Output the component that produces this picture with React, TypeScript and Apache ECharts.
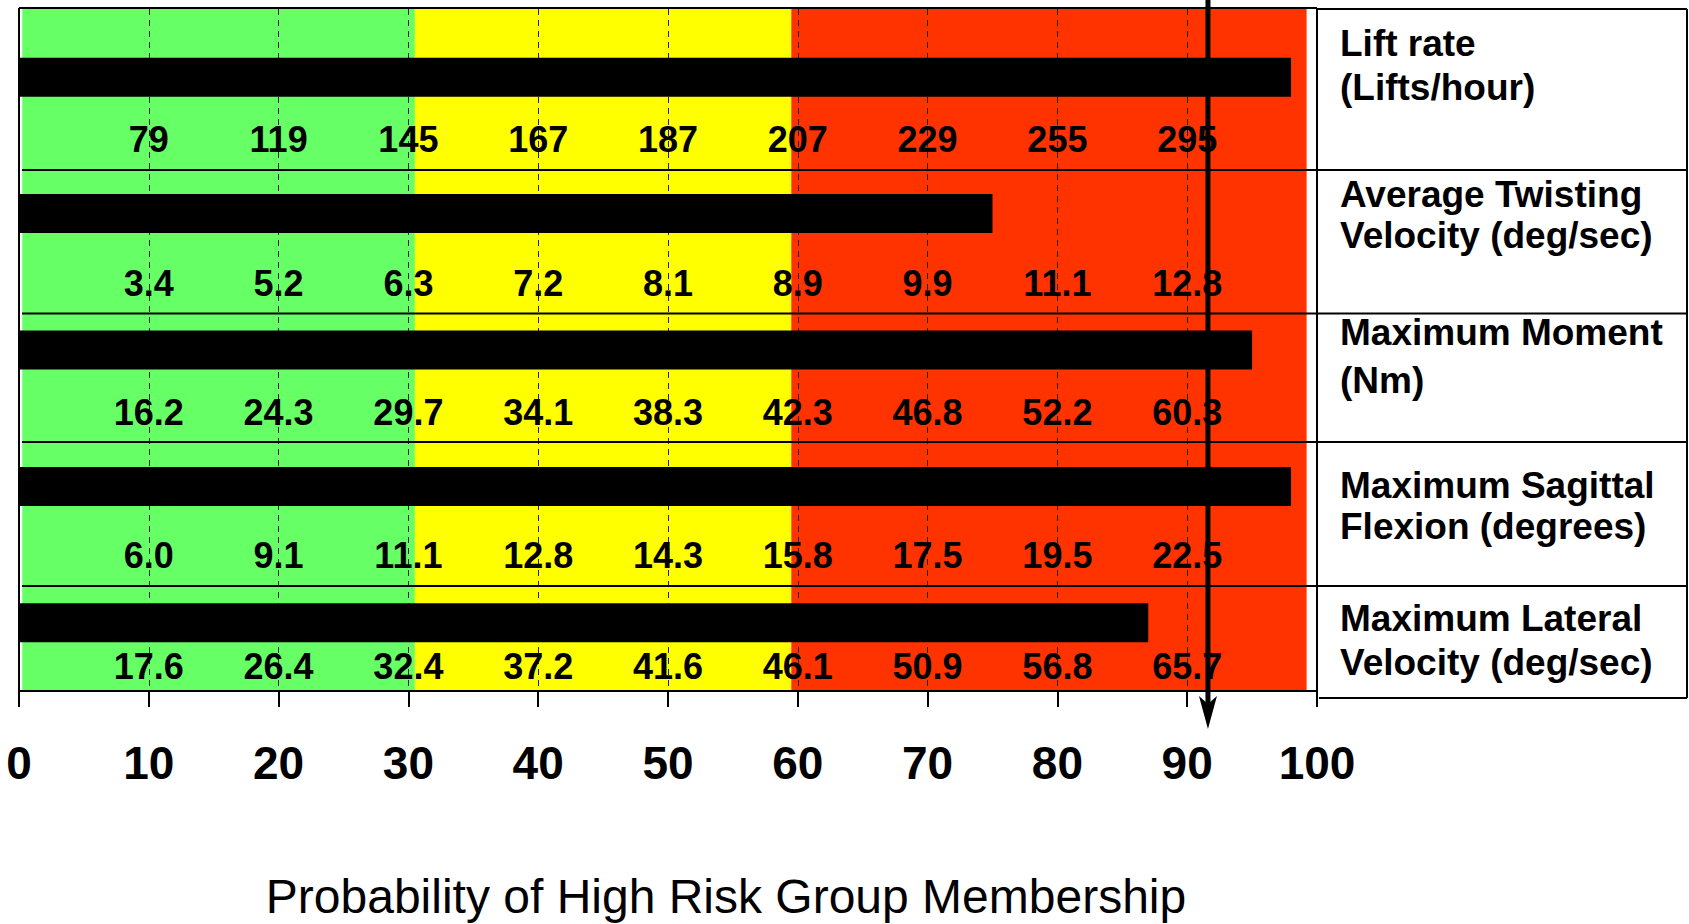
import React, { useEffect, useRef } from 'react';
import * as echarts from 'echarts';

// ---------- data ----------
const rowKeys = ['lift', 'twist', 'moment', 'sagittal', 'lateral'];
const rowLabelLines = [
  ['Lift rate', '(Lifts/hour)'],
  ['Average Twisting', 'Velocity (deg/sec)'],
  ['Maximum Moment', '(Nm)'],
  ['Maximum Sagittal', 'Flexion (degrees)'],
  ['Maximum Lateral', 'Velocity (deg/sec)'],
];
const probabilities = [98, 75, 95, 98, 87];
const scalePositions = [10, 20, 30, 40, 50, 60, 70, 80, 90];
const liftRateTicks = ['79', '119', '145', '167', '187', '207', '229', '255', '295'];
const twistVelocityTicks = ['3.4', '5.2', '6.3', '7.2', '8.1', '8.9', '9.9', '11.1', '12.8'];
const momentTicks = ['16.2', '24.3', '29.7', '34.1', '38.3', '42.3', '46.8', '52.2', '60.3'];
const sagittalTicks = ['6.0', '9.1', '11.1', '12.8', '14.3', '15.8', '17.5', '19.5', '22.5'];
const lateralVelocityTicks = ['17.6', '26.4', '32.4', '37.2', '41.6', '46.1', '50.9', '56.8', '65.7'];
const rowTicks = [liftRateTicks, twistVelocityTicks, momentTicks, sagittalTicks, lateralVelocityTicks];
const zoneEdges = [0.25, 30.5, 59.5, 99.2];
const zoneColors = ['#66FF66', '#FFFF00', '#FF3300'];
const arrowValue = 91.6;
const axisTitle = 'Probability of High Risk Group Membership';

// ---------- layout / style ----------
const W = 1689;
const H = 924;
const FONT = '"Liberation Sans", Arial, Helvetica, sans-serif';
const GRID_LEFT = 19;
const GRID_RIGHT_X = 1317;
const GRID_TOP = 9;
const GRID_HEIGHT = 682;
const BOX_RIGHT = 1687;
const separatorYs = [170, 313.5, 442, 586];
const tickLabelOffsets = [62, 70, 62, 69, 44];
const labelLineYs = [
  [43, 87],
  [194, 235],
  [332.5, 380.5],
  [485, 526],
  [618.5, 662],
];

export default function App() {
  const ref = useRef<HTMLDivElement>(null);

  useEffect(() => {
    document.body.style.margin = '0';
    if (!ref.current) return;
    const chart = echarts.init(ref.current, null, { renderer: 'svg' });

    const labelData: any[] = [];
    rowTicks.forEach((ticks, r) => {
      ticks.forEach((t, i) => {
        labelData.push({
          name: t,
          value: [scalePositions[i], r],
          label: { offset: [0, tickLabelOffsets[r]] },
        });
      });
    });

    const zoneAreas = zoneColors.map((c, i) => [
      { xAxis: zoneEdges[i], itemStyle: { color: c, opacity: 1 } },
      { xAxis: zoneEdges[i + 1] },
    ]);

    const option: any = {
      animation: false,
      grid: {
        left: GRID_LEFT,
        top: GRID_TOP,
        width: GRID_RIGHT_X - GRID_LEFT,
        height: GRID_HEIGHT,
        containLabel: false,
      },
      xAxis: {
        type: 'value',
        min: 0,
        max: 100,
        interval: 10,
        z: 3,
        axisLine: { show: true, lineStyle: { color: '#000', width: 2 } },
        axisTick: { show: true, length: 16, lineStyle: { color: '#000', width: 2 } },
        axisLabel: {
          show: true,
          margin: 49,
          color: '#000',
          fontFamily: FONT,
          fontWeight: 'bold',
          fontSize: 46,
        },
        splitLine: { show: true, lineStyle: { color: '#222', width: 1, type: [6, 5] } },
      },
      yAxis: {
        type: 'category',
        data: rowKeys,
        inverse: true,
        axisLine: { show: false },
        axisTick: { show: false },
        axisLabel: { show: false },
        splitLine: { show: false },
      },
      series: [
        {
          type: 'bar',
          name: 'zones',
          data: probabilities,
          barWidth: 39,
          z: 1,
          silent: true,
          itemStyle: { color: 'rgba(0,0,0,0)' },
          markArea: { silent: true, z: 1, data: zoneAreas },
        },
        {
          type: 'bar',
          name: 'probability',
          data: probabilities,
          barWidth: 39,
          barGap: '-100%',
          z: 4,
          itemStyle: { color: '#000' },
        },
        {
          type: 'scatter',
          name: 'scale',
          data: labelData,
          symbolSize: 0,
          z: 5,
          silent: true,
          itemStyle: { opacity: 1, color: '#000' },
          label: {
            show: true,
            position: 'inside',
            formatter: '{b}',
            color: '#000',
            opacity: 1,
            fontFamily: FONT,
            fontWeight: 'bold',
            fontSize: 36,
          },
        },
      ],
    };
    chart.setOption(option);

    const ax = chart.convertToPixel({ xAxisIndex: 0 }, arrowValue) as number;
    const bottomY = GRID_TOP + GRID_HEIGHT;
    const ln = (x1: number, y1: number, x2: number, y2: number, w = 2) => ({
      type: 'line',
      silent: true,
      z: 20,
      shape: { x1, y1, x2, y2 },
      style: { stroke: '#000', lineWidth: w },
    });

    const graphics: any[] = [
      // plot frame
      ln(GRID_LEFT, 8, GRID_RIGHT_X, 8),
      ln(GRID_LEFT, 8, GRID_LEFT, bottomY),
      ln(GRID_RIGHT_X, 8, GRID_RIGHT_X, bottomY + 16),
      // label box
      ln(GRID_RIGHT_X, 9, BOX_RIGHT, 9),
      ln(BOX_RIGHT, 9, BOX_RIGHT, 698),
      ln(GRID_RIGHT_X + 2, 698, BOX_RIGHT, 698),
      // row separators
      ...separatorYs.map((y) => ln(22, y, BOX_RIGHT, y)),
    ];

    rowLabelLines.forEach((lines, r) => {
      lines.forEach((t, k) => {
        graphics.push({
          type: 'text',
          silent: true,
          z: 20,
          x: 1340,
          y: labelLineYs[r][k],
          style: {
            text: t,
            fill: '#000',
            font: `bold 37px ${FONT}`,
            align: 'left',
            verticalAlign: 'middle',
          },
        });
      });
    });

    // arrow
    graphics.push(ln(ax, 0, ax, 705, 5));
    graphics.push({
      type: 'polygon',
      silent: true,
      z: 21,
      shape: { points: [[ax - 9, 696], [ax, 704], [ax + 9, 696], [ax, 729]] },
      style: { fill: '#000' },
    });

    // axis title
    graphics.push({
      type: 'text',
      silent: true,
      z: 20,
      x: 726,
      y: 896,
      style: {
        text: axisTitle,
        fill: '#000',
        font: `48px ${FONT}`,
        align: 'center',
        verticalAlign: 'middle',
      },
    });

    chart.setOption({ graphic: graphics });

    return () => {
      chart.dispose();
    };
  }, []);

  return <div ref={ref} style={{ width: W, height: H }} />;
}
